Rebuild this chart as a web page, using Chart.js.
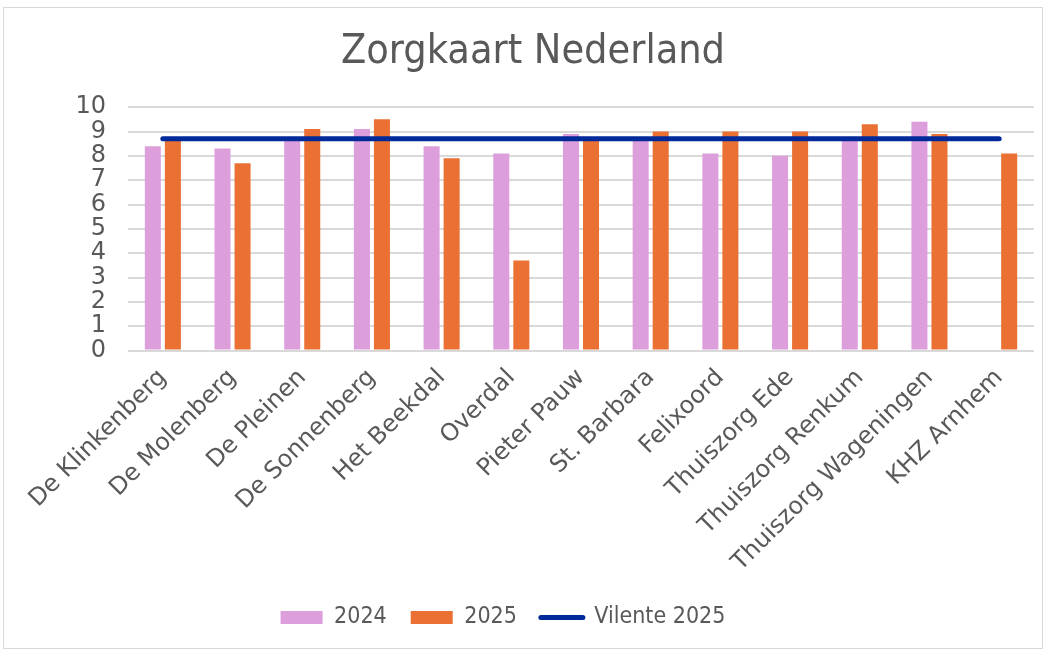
<!DOCTYPE html>
<html>
<head>
<meta charset="utf-8">
<script src="https://cdn.jsdelivr.net/npm/chart.js@4.4.1/dist/chart.umd.min.js"></script>
<style>
  html, body { margin: 0; padding: 0; background: #fff; }
  #wrap { position: absolute; left: 3px; top: 7px; width: 1040px; height: 642px;
          border: 1px solid #d9d9d9; box-sizing: border-box; }
</style>
</head>
<body>
<div id="wrap"><canvas id="myChart"></canvas></div>
<script>
const labels = ['De Klinkenberg', 'De Molenberg', 'De Pleinen', 'De Sonnenberg', 'Het Beekdal',
  'Overdal', 'Pieter Pauw', 'St. Barbara', 'Felixoord', 'Thuiszorg Ede', 'Thuiszorg Renkum',
  'Thuiszorg Wageningen', 'KHZ Arnhem'];
const scores2024 = [8.4, 8.3, 8.7, 9.1, 8.4, 8.1, 8.9, 8.7, 8.1, 8.0, 8.7, 9.4, null];
const scores2025 = [8.7, 7.7, 9.1, 9.5, 7.9, 3.7, 8.7, 9.0, 9.0, 9.0, 9.3, 8.9, 8.1];
const vilente2025 = [8.7, 8.7, 8.7, 8.7, 8.7, 8.7, 8.7, 8.7, 8.7, 8.7, 8.7, 8.7, 8.7];
const yTicks = [0, 1, 2, 3, 4, 5, 6, 7, 8, 9, 10];

const condensed = "'DejaVu Sans Condensed', 'DejaVu Sans', sans-serif";
const wide = "'DejaVu Sans', sans-serif";
const grey = '#595959';

// legend sits a bit left of centre in the original
const legendShift = {
  id: 'legendShift',
  afterLayout(chart) {
    if (chart.legend) {
      chart.legend.left -= 30;
      chart.legend.right -= 30;
    }
  }
};

const ctx = document.getElementById('myChart').getContext('2d');
const myChart = new Chart(ctx, {
  data: {
    labels: labels,
    datasets: [
      {
        type: 'bar',
        label: '2024',
        data: scores2024,
        backgroundColor: '#dc9fdc',
        categoryPercentage: 0.575,
        barPercentage: 0.8,
        order: 1
      },
      {
        type: 'bar',
        label: '2025',
        data: scores2025,
        backgroundColor: '#ea7133',
        categoryPercentage: 0.575,
        barPercentage: 0.8,
        order: 1
      },
      {
        type: 'line',
        label: 'Vilente 2025',
        data: vilente2025,
        borderColor: '#00299a',
        backgroundColor: '#00299a',
        borderWidth: 5,
        borderCapStyle: 'round',
        pointRadius: 0,
        fill: false,
        order: 0
      }
    ]
  },
  options: {
    responsive: true,
    maintainAspectRatio: false,
    animation: false,
    layout: { padding: { left: 28, right: 8, top: 0, bottom: 9 } },
    plugins: {
      title: {
        display: true,
        text: 'Zorgkaart Nederland',
        color: grey,
        font: { family: condensed, size: 41, weight: 'normal' },
        padding: { top: 20, bottom: 30 }
      },
      legend: {
        position: 'bottom',
        labels: {
          color: grey,
          font: { family: condensed, size: 23 },
          usePointStyle: true,
          pointStyleWidth: 42,
          boxHeight: 13,
          padding: 24,
          generateLabels: (chart) => {
            const items = Chart.defaults.plugins.legend.labels.generateLabels(chart);
            items.sort((a, b) => a.datasetIndex - b.datasetIndex);
            items.forEach((it) => {
              const ds = chart.data.datasets[it.datasetIndex];
              if (ds.type === 'line') {
                it.pointStyle = 'line';
                it.lineWidth = 5;
                it.strokeStyle = ds.borderColor;
                it.lineCap = 'round';
              } else {
                it.pointStyle = 'rect';
                it.lineWidth = 0;
                it.fillStyle = ds.backgroundColor;
              }
            });
            return items;
          }
        }
      },
      tooltip: { enabled: false }
    },
    scales: {
      x: {
        grid: { display: false },
        border: { display: false },
        ticks: {
          color: grey,
          font: { family: wide, size: 24 },
          minRotation: 45,
          maxRotation: 45,
          autoSkip: false,
          padding: 5
        }
      },
      y: {
        min: 0,
        max: 10,
        border: { display: false },
        grid: { color: '#d9d9d9', lineWidth: 2, drawTicks: false },
        afterBuildTicks: (axis) => { axis.ticks = yTicks.map(v => ({ value: v })); },
        afterFit: (axis) => { axis.width = 96; },
        ticks: {
          color: grey,
          font: { family: wide, size: 24 },
          autoSkip: false,
          padding: 22
        }
      }
    }
  },
  plugins: [legendShift]
});
console.log(myChart);
</script>
</body>
</html>
